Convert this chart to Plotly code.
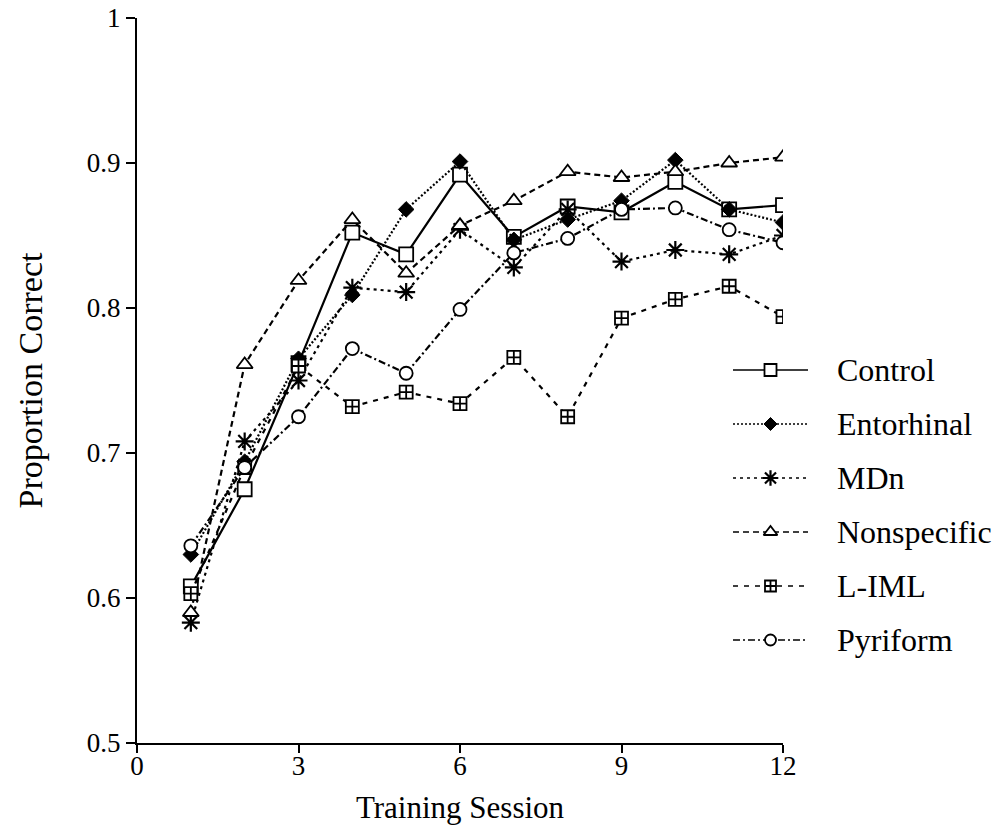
import plotly.graph_objects as go

sessions = [1, 2, 3, 4, 5, 6, 7, 8, 9, 10, 11, 12]
control = [0.608, 0.675, 0.762, 0.852, 0.837, 0.892, 0.849, 0.870, 0.866, 0.887, 0.868, 0.871]
entorhinal = [0.630, 0.694, 0.765, 0.809, 0.868, 0.901, 0.847, 0.861, 0.874, 0.902, 0.868, 0.859]
mdn = [0.583, 0.708, 0.750, 0.814, 0.811, 0.854, 0.828, 0.868, 0.832, 0.840, 0.837, 0.850]
nonspecific = [0.590, 0.761, 0.819, 0.861, 0.824, 0.857, 0.874, 0.894, 0.890, 0.894, 0.900, 0.904]
liml = [0.603, 0.690, 0.760, 0.732, 0.742, 0.734, 0.766, 0.725, 0.793, 0.806, 0.815, 0.794]
pyriform = [0.636, 0.690, 0.725, 0.772, 0.755, 0.799, 0.838, 0.848, 0.868, 0.869, 0.854, 0.845]

group_names = ["Control", "Entorhinal", "MDn", "Nonspecific", "L-IML", "Pyriform"]
group_values = [control, entorhinal, mdn, nonspecific, liml, pyriform]

x_ticks = [0, 3, 6, 9, 12]
x_tick_labels = ["0", "3", "6", "9", "12"]
y_ticks = [0.5, 0.6, 0.7, 0.8, 0.9, 1.0]
y_tick_labels = ["0.5", "0.6", "0.7", "0.8", "0.9", "1"]

styles = {
    "Control": dict(dash="solid", symbol="square", size=14, fill="white", lw=1.8),
    "Entorhinal": dict(dash="2px,2px", symbol="diamond", size=12, fill="black", lw=1.0),
    "MDn": dict(dash="3px,4px", symbol="asterisk-open", size=15, fill="black", lw=2.2),
    "Nonspecific": dict(dash="6px,4px", symbol="triangle-up", size=14, fill="white", lw=1.8),
    "L-IML": dict(dash="5px,6px", symbol="square-cross", size=13, fill="white", lw=1.8),
    "Pyriform": dict(dash="7px,3px,2px,3px", symbol="circle", size=13, fill="white", lw=1.8),
}

W, H = 1008, 838
left, right, top, bottom = 137, 783, 18, 743

fig = go.Figure()

for name, vals in zip(group_names, group_values):
    s = styles[name]
    fig.add_trace(go.Scatter(
        x=sessions, y=vals, mode="lines+markers", name=name, showlegend=False,
        line=dict(color="black", width=2.2, dash=s["dash"]),
        marker=dict(symbol=s["symbol"], size=s["size"], color=s["fill"],
                    line=dict(color="black", width=s["lw"])),
        xaxis="x", yaxis="y",
    ))

# legend samples drawn on an auxiliary axis (row index = legend position)
for i, name in enumerate(group_names):
    s = styles[name]
    fig.add_trace(go.Scatter(
        x=[0, 0.5, 1], y=[i, i, i], mode="lines", showlegend=False, hoverinfo="skip",
        line=dict(color="black", width=1.6, dash=s["dash"]),
        xaxis="x2", yaxis="y2",
    ))
    fig.add_trace(go.Scatter(
        x=[0.5], y=[i], mode="markers", showlegend=False, hoverinfo="skip",
        marker=dict(symbol=s["symbol"], size=s["size"] - 2, color=s["fill"],
                    line=dict(color="black", width=s["lw"])),
        xaxis="x2", yaxis="y2",
    ))
    fig.add_annotation(
        x=835 / W, y=i, xref="paper", yref="y2", text=name, showarrow=False,
        xanchor="left", yanchor="middle",
        font=dict(family="Liberation Serif", size=32, color="black"),
    )

fig.update_layout(
    width=W, height=H,
    margin=dict(l=0, r=0, t=0, b=0),
    paper_bgcolor="white", plot_bgcolor="white",
    font=dict(family="Liberation Serif", size=24, color="black"),
    xaxis=dict(
        domain=[left / W, right / W], range=[0, 12],
        tickmode="array", tickvals=x_ticks, ticktext=x_tick_labels,
        ticks="outside", ticklen=8, tickwidth=1.8, tickcolor="black",
        ticklabelstandoff=-10,
        showline=True, linecolor="black", linewidth=2,
        showgrid=False, zeroline=False, automargin=False,
        tickfont=dict(family="Liberation Serif", size=27, color="black"),
        title=dict(text="Training Session", standoff=16,
                   font=dict(family="Liberation Serif", size=31, color="black")),
        anchor="y",
    ),
    yaxis=dict(
        domain=[(H - bottom) / H, (H - top) / H], range=[0.5, 1.0],
        tickmode="array", tickvals=y_ticks, ticktext=y_tick_labels,
        ticks="outside", ticklen=9, tickwidth=1.8, tickcolor="black",
        showline=True, linecolor="black", linewidth=2,
        showgrid=False, zeroline=False, automargin=False,
        tickfont=dict(family="Liberation Serif", size=27, color="black"),
        title=dict(text="Proportion Correct", standoff=34,
                   font=dict(family="Liberation Serif", size=34, color="black")),
        anchor="x",
    ),
    xaxis2=dict(domain=[733 / W, 808 / W], range=[0, 1], visible=False, anchor="y2"),
    yaxis2=dict(domain=[(H - 660) / H, (H - 350) / H], range=[5.37, -0.37],
                visible=False, anchor="x2"),
)

fig.write_html("out.html")
